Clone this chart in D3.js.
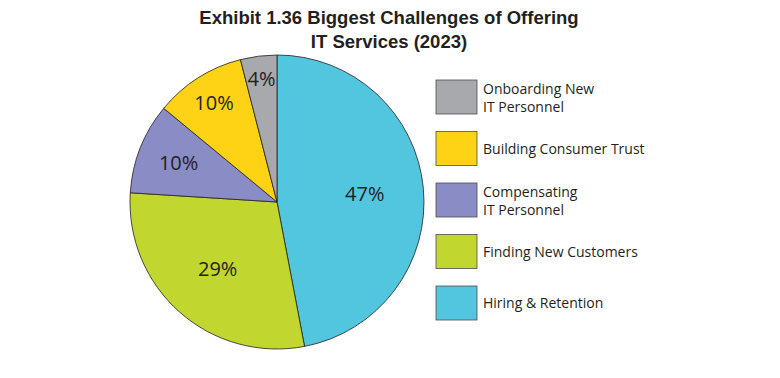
<!DOCTYPE html>
<html><head><meta charset="utf-8">
<script src="https://cdn.jsdelivr.net/npm/d3@7"></script>
<style>body{margin:0;background:#fff}svg{display:block}</style>
</head><body>
<svg id="c" width="780" height="378"></svg>
<script>
const categories = ["Hiring & Retention","Finding New Customers","Compensating IT Personnel","Building Consumer Trust","Onboarding New IT Personnel"];
const values = [47, 29, 10, 10, 4];
const colors = ["#52c6de","#c1d72f","#8a8cc5","#fed215","#a8a9ac"];
const legendOrder = [4, 3, 2, 1, 0];
const legendLines = [["Hiring & Retention"],["Finding New Customers"],["Compensating","IT Personnel"],["Building Consumer Trust"],["Onboarding New","IT Personnel"]];
const labelRadiusFactor = [0.6, 0.61, 0.72, 0.8, 0.84];

const svg = d3.select("#c");
const cx = 277, cy = 202, r = 147;

svg.append("text").attr("x", 389).attr("y", 24).attr("text-anchor","middle")
  .attr("font-family","Liberation Sans, Arial, sans-serif").attr("font-weight","bold").attr("font-size",18.5).attr("fill","#231f20")
  .text("Exhibit 1.36 Biggest Challenges of Offering");
svg.append("text").attr("x", 389).attr("y", 48).attr("text-anchor","middle")
  .attr("font-family","Liberation Sans, Arial, sans-serif").attr("font-weight","bold").attr("font-size",18.5).attr("fill","#231f20")
  .text("IT Services (2023)");

const pie = d3.pie().sort(null).value(d => d)(values);
const arc = d3.arc().innerRadius(0).outerRadius(r);
const g = svg.append("g").attr("transform", `translate(${cx},${cy})`);
g.selectAll("path").data(pie).enter().append("path")
  .attr("d", arc).attr("fill", (d,i) => colors[i]).attr("stroke","#231f20").attr("stroke-width",0.8);
g.selectAll("text").data(pie).enter().append("text")
  .attr("transform", (d,i) => {
    const a = (d.startAngle + d.endAngle)/2;
    const rr = r * labelRadiusFactor[i];
    return `translate(${Math.sin(a)*rr},${-Math.cos(a)*rr})`;
  })
  .attr("text-anchor","middle").attr("dy","0.35em")
  .attr("font-family","Open Sans, sans-serif").attr("font-size",20).attr("fill","#231f20")
  .text(d => d.value + "%");

const lg = svg.append("g").attr("transform","translate(436,80)");
const step = 51.5;
legendOrder.forEach((idx, k) => {
  const row = lg.append("g").attr("transform", `translate(0,${k*step})`);
  row.append("rect").attr("x",0).attr("y",0).attr("width",41).attr("height",34)
    .attr("fill", colors[idx]).attr("stroke","#4d4d4d").attr("stroke-width",0.8);
  const lines = legendLines[idx];
  const t = row.append("text").attr("font-family","Open Sans, sans-serif").attr("font-size",14).attr("fill","#231f20");
  lines.forEach((ln, j) => {
    const y = lines.length === 1 ? 22 : 14 + j*18;
    t.append("tspan").attr("x",47).attr("y",y).text(ln);
  });
});
</script>
</body></html>
